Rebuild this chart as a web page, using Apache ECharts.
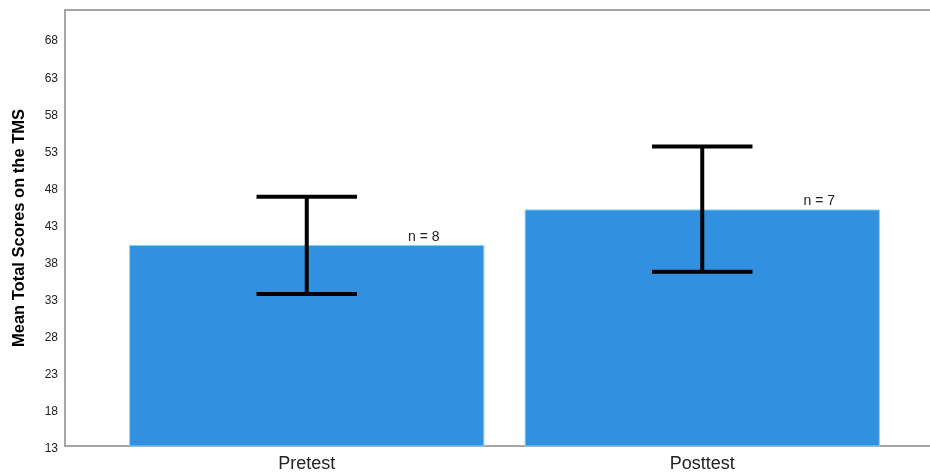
<!DOCTYPE html>
<html>
<head>
<meta charset="utf-8">
<script src="https://cdn.jsdelivr.net/npm/echarts@6/dist/echarts.min.js"></script>
<style>
  html, body { margin: 0; padding: 0; background: #fff; }
  #chart { width: 930px; height: 474px; }
</style>
</head>
<body>
<div id="chart"></div>
<script>
// Mean TMS totals per test occasion, with error bar ranges and group sizes
const categories = ['Pretest', 'Posttest'];
const meanScores = [40.1, 44.9];
const errorLow = [33.5, 36.5];
const errorHigh = [46.6, 53.4];
const sampleSizes = [8, 7];

// Value axis range and tick step
const yMin = 13;
const yMax = 71.8;
const yStep = 5;

const FONT = '"Liberation Sans", Arial, sans-serif';
const FRAME = { show: true, lineStyle: { color: '#8a8a8a', width: 1.5 } };

const chart = echarts.init(document.getElementById('chart'), null, { renderer: 'canvas' });

// helper for the plain frame axes (line only)
function frameAxis(position) {
  return {
    gridIndex: 0, type: 'value', min: 0, max: 1, position: position,
    axisLine: FRAME, axisTick: { show: false }, axisLabel: { show: false }, splitLine: { show: false }
  };
}

const option = {
  animation: false,
  backgroundColor: '#ffffff',
  grid: [
    // outer frame (left, top and bottom edges) carrying the value-axis labels
    { left: 65, right: 0, top: 10, bottom: 28 },
    // plotting band for the bars
    { left: 109, right: 30, top: 10, bottom: 28 }
  ],
  xAxis: [
    frameAxis('bottom'),
    {
      gridIndex: 1,
      type: 'category',
      data: categories,
      axisLine: { show: false },
      axisTick: { show: false },
      axisLabel: { color: '#222', fontSize: 18, fontFamily: FONT, margin: 9 }
    },
    frameAxis('top')
  ],
  yAxis: [
    {
      gridIndex: 0,
      type: 'value',
      min: yMin,
      max: yMax,
      interval: yStep,
      name: 'Mean Total Scores on the TMS',
      nameLocation: 'middle',
      nameGap: 37,
      nameTextStyle: { color: '#000', fontSize: 16.5, fontWeight: 'bold', fontFamily: FONT },
      axisLine: FRAME,
      axisTick: { show: false },
      splitLine: { show: false },
      axisLabel: {
        color: '#222', fontSize: 12, fontFamily: FONT, margin: 7,
        showMaxLabel: false, verticalAlign: 'top', lineHeight: 6
      }
    },
    { gridIndex: 1, type: 'value', min: yMin, max: yMax, show: false }
  ],
  series: [
    {
      type: 'bar',
      xAxisIndex: 1,
      yAxisIndex: 1,
      data: meanScores,
      barCategoryGap: '10.2%',
      itemStyle: { color: '#3190e0', borderColor: '#7fd2f4', borderWidth: 1 },
      label: {
        show: true,
        position: 'top',
        distance: 1,
        offset: [117, 0],
        color: '#222',
        fontSize: 14,
        fontFamily: FONT,
        formatter: (p) => 'n = ' + sampleSizes[p.dataIndex]
      },
      z: 2
    },
    {
      type: 'custom',
      xAxisIndex: 1,
      yAxisIndex: 1,
      data: categories.map((c, i) => [i, errorLow[i], errorHigh[i]]),
      encode: { x: 0, y: [1, 2] },
      z: 5,
      renderItem: function (params, api) {
        const idx = api.value(0);
        const top = api.coord([idx, api.value(2)]);
        const bottom = api.coord([idx, api.value(1)]);
        const half = api.size([1, 0])[0] * 0.127;
        const style = { stroke: '#000', lineWidth: 4 };
        return {
          type: 'group',
          children: [
            { type: 'line', shape: { x1: top[0], y1: top[1], x2: bottom[0], y2: bottom[1] }, style: style },
            { type: 'line', shape: { x1: top[0] - half, y1: top[1], x2: top[0] + half, y2: top[1] }, style: style },
            { type: 'line', shape: { x1: bottom[0] - half, y1: bottom[1], x2: bottom[0] + half, y2: bottom[1] }, style: style }
          ]
        };
      }
    }
  ]
};

chart.setOption(option);
</script>
</body>
</html>
